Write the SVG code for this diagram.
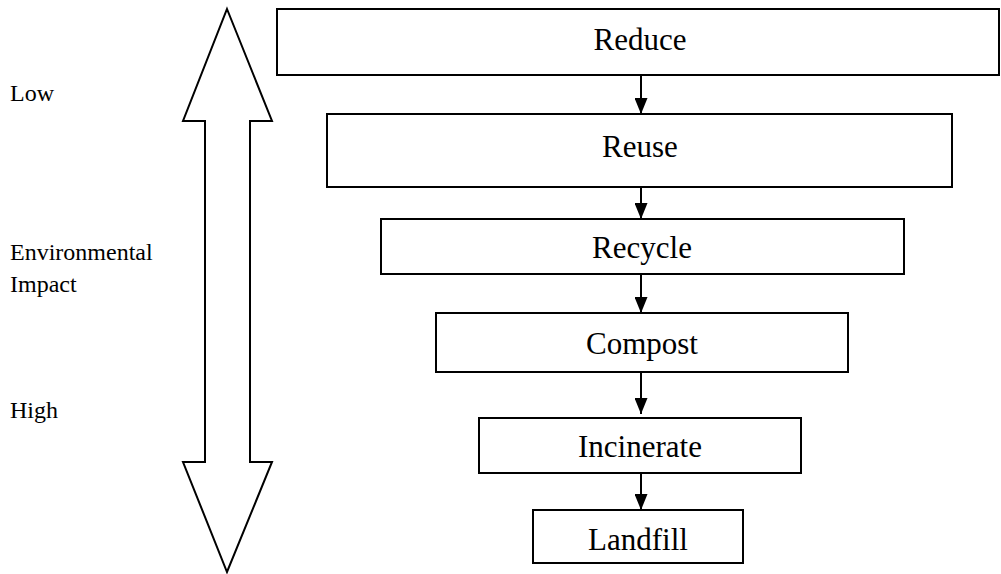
<svg xmlns="http://www.w3.org/2000/svg" width="1001" height="574" viewBox="0 0 1001 574">
<defs>
<style>
.box{fill:#fff;stroke:#000;stroke-width:2}
.bt{font-family:"Liberation Serif","Times New Roman",serif;font-size:31px;fill:#000;text-anchor:middle}
.lt{font-family:"Liberation Serif","Times New Roman",serif;font-size:24px;fill:#000}
.con{stroke:#000;stroke-width:2;fill:none}
</style>
<marker id="ah" markerWidth="16" markerHeight="13" viewBox="0 0 16 13" refX="16" refY="6.5" orient="auto" markerUnits="userSpaceOnUse">
<path d="M0,0 L16,6.5 L0,13 Z" fill="#000"/>
</marker>
</defs>
<rect width="1001" height="574" fill="#fff"/>
<g id="scale-arrow">
<path d="M227,9 L272,121 L250,121 L250,462 L272,462 L227,572 L183,462 L205,462 L205,121 L183,121 Z" fill="#fff" stroke="#000" stroke-width="2" stroke-linejoin="miter"/>
</g>
<g id="labels">
<text class="lt" x="10" y="101">Low</text>
<text class="lt" x="10" y="260">Environmental</text>
<text class="lt" x="10" y="292">Impact</text>
<text class="lt" x="10" y="418">High</text>
</g>
<g id="connectors">
<line class="con" x1="641" y1="75" x2="641" y2="114" marker-end="url(#ah)"/>
<line class="con" x1="641" y1="187" x2="641" y2="219" marker-end="url(#ah)"/>
<line class="con" x1="641" y1="274" x2="641" y2="313" marker-end="url(#ah)"/>
<line class="con" x1="641" y1="372" x2="641" y2="414" marker-end="url(#ah)"/>
<line class="con" x1="641" y1="473" x2="641" y2="510" marker-end="url(#ah)"/>
</g>
<g id="reduce"><rect class="box" x="277" y="9" width="722" height="66"/><text class="bt" x="640" y="50">Reduce</text></g>
<g id="reuse"><rect class="box" x="327" y="114" width="625" height="73"/><text class="bt" x="640" y="157">Reuse</text></g>
<g id="recycle"><rect class="box" x="381" y="219" width="523" height="55"/><text class="bt" x="642" y="258">Recycle</text></g>
<g id="compost"><rect class="box" x="436" y="313" width="412" height="59"/><text class="bt" x="642" y="354">Compost</text></g>
<g id="incinerate"><rect class="box" x="479" y="418" width="322" height="55"/><text class="bt" x="640" y="457">Incinerate</text></g>
<g id="landfill"><rect class="box" x="533" y="510" width="210" height="53"/><text class="bt" x="638" y="550">Landfill</text></g>
</svg>
